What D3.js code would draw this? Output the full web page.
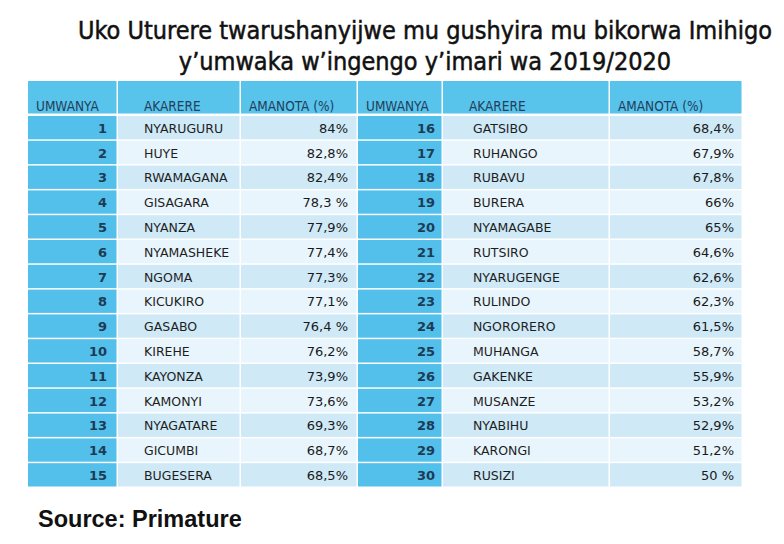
<!DOCTYPE html>
<html>
<head>
<meta charset="utf-8">
<script src="https://cdn.jsdelivr.net/npm/d3@7"></script>
<style>
  body { margin: 0; background: #fff; }
  svg { display: block; }
</style>
</head>
<body>
<svg width="784" height="544"></svg>
<script>
const titleLines = [
  'Uko Uturere twarushanyijwe mu gushyira mu bikorwa Imihigo',
  'y\u2019umwaka w\u2019ingengo y\u2019imari wa 2019/2020'
];
const headers = ['UMWANYA', 'AKARERE', 'AMANOTA (%)'];
const ranks = d3.range(1, 31);
const districts = [
  'NYARUGURU', 'HUYE', 'RWAMAGANA', 'GISAGARA', 'NYANZA', 'NYAMASHEKE', 'NGOMA',
  'KICUKIRO', 'GASABO', 'KIREHE', 'KAYONZA', 'KAMONYI', 'NYAGATARE', 'GICUMBI', 'BUGESERA',
  'GATSIBO', 'RUHANGO', 'RUBAVU', 'BURERA', 'NYAMAGABE', 'RUTSIRO', 'NYARUGENGE',
  'RULINDO', 'NGORORERO', 'MUHANGA', 'GAKENKE', 'MUSANZE', 'NYABIHU', 'KARONGI', 'RUSIZI'
];
const scores = [
  '84%', '82,8%', '82,4%', '78,3 %', '77,9%', '77,4%', '77,3%',
  '77,1%', '76,4 %', '76,2%', '73,9%', '73,6%', '69,3%', '68,7%', '68,5%',
  '68,4%', '67,9%', '67,8%', '66%', '65%', '64,6%', '62,6%',
  '62,3%', '61,5%', '58,7%', '55,9%', '53,2%', '52,9%', '51,2%', '50 %'
];
const sourceText = 'Source: Primature';

const svg = d3.select('svg');

const rows = ranks.map((r, i) => ({ rank: r, district: districts[i], score: scores[i] }));
const perPanel = 15;

// column edges: rank, district, score for each half
const colEdges = [28, 118, 241, 358, 443, 610, 743];
const tableTop = 81, headerBottom = 115, tableBottom = 488;

const yScale = d3.scaleBand()
  .domain(d3.range(perPanel))
  .range([headerBottom + 1, tableBottom]);

const font = "'DejaVu Sans', Verdana, sans-serif";
const condFont = "'DejaVu Sans Condensed', 'DejaVu Sans', sans-serif";

// title
svg.append('g').selectAll('text').data(titleLines)
  .enter().append('text')
    .attr('x', 425)
    .attr('y', (d, i) => 39 + i * 31)
    .attr('text-anchor', 'middle')
    .attr('font-family', condFont)
    .attr('font-size', 25)
    .attr('fill', '#111')
    .attr('stroke', '#111')
    .attr('stroke-width', 0.5)
    .text(d => d);

const table = svg.append('g');

[0, 1].forEach(panel => {
  const e = colEdges.slice(panel * 3, panel * 3 + 4);
  if (panel === 1) e[0] = colEdges[3];
  const cols = [[e[0], e[1]], [e[1], e[2]], [e[2], e[3]]];
  const data = rows.slice(panel * perPanel, (panel + 1) * perPanel);
  const g = table.append('g');

  // header cells
  g.selectAll('rect.head').data(cols)
    .enter().append('rect')
      .attr('class', 'head')
      .attr('x', d => d[0])
      .attr('y', tableTop)
      .attr('width', d => d[1] - d[0] - 1.5)
      .attr('height', headerBottom - tableTop - 1.5)
      .attr('fill', '#58c3eb');

  g.selectAll('text.head').data(headers)
    .enter().append('text')
      .attr('class', 'head')
      .attr('x', (d, i) => cols[i][0] + (i === 1 ? 26 : 8))
      .attr('y', 111)
      .attr('font-family', condFont)
      .attr('font-size', 13.5)
      .attr('fill', '#22405a')
      .text(d => d);

  const rowG = g.selectAll('g.row').data(data)
    .enter().append('g')
      .attr('class', 'row')
      .attr('transform', (d, i) => `translate(0, ${yScale(i)})`);

  const h = yScale.bandwidth();

  rowG.append('rect')
    .attr('x', cols[0][0])
    .attr('width', cols[0][1] - cols[0][0] - 1.5)
    .attr('height', h - 1.5)
    .attr('fill', '#52c0ea');

  [1, 2].forEach(c => {
    rowG.append('rect')
      .attr('x', cols[c][0])
      .attr('width', cols[c][1] - cols[c][0] - 1.5)
      .attr('height', h - 1.5)
      .attr('fill', (d, i) => i % 2 === 0 ? '#cfe9f7' : '#e8f5fc');
  });

  rowG.append('text')
    .attr('x', cols[0][1] - (panel ? 8 : 11))
    .attr('y', h / 2 + 4.5)
    .attr('text-anchor', 'end')
    .attr('font-family', font)
    .attr('font-weight', 'bold')
    .attr('font-size', 13)
    .attr('fill', '#1f3a54')
    .text(d => d.rank);

  rowG.append('text')
    .attr('x', cols[1][0] + (panel ? 30 : 26))
    .attr('y', h / 2 + 4.5)
    .attr('font-family', font)
    .attr('font-size', 12.5)
    .attr('fill', '#1e1e1e')
    .text(d => d.district);

  rowG.append('text')
    .attr('x', cols[2][1] - (panel ? 9 : 10))
    .attr('y', h / 2 + 4.5)
    .attr('text-anchor', 'end')
    .attr('font-family', font)
    .attr('font-size', 13)
    .attr('fill', '#1a1a1a')
    .text(d => d.score);
});

svg.append('text')
  .attr('x', 38)
  .attr('y', 527)
  .attr('font-family', "'Liberation Sans', Arial, sans-serif")
  .attr('font-weight', 'bold')
  .attr('font-size', 23.5)
  .attr('fill', '#111')
  .text(sourceText);
</script>
</body>
</html>
